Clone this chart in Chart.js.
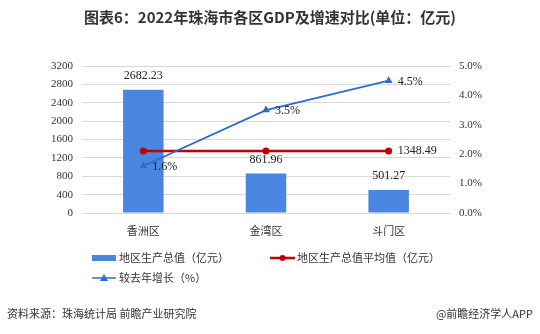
<!DOCTYPE html>
<html><head><meta charset="utf-8">
<script src="https://cdn.jsdelivr.net/npm/chart.js@4"></script>
<style>
html,body{margin:0;padding:0;background:#fff;}
#wrap{position:relative;width:540px;height:334px;overflow:hidden;}
#title{position:absolute;left:0;top:6px;width:540px;text-align:center;font:bold 15px "Noto Sans CJK SC","Liberation Sans",sans-serif;color:#333;}
#src{position:absolute;left:7px;top:305px;font:11px "Noto Sans CJK SC",sans-serif;color:#333;}
#app{position:absolute;right:7px;top:305px;font:11px "Noto Sans CJK SC",sans-serif;color:#333;}
canvas{position:absolute;left:0;top:0;}
</style></head><body>
<div id="wrap">
<canvas id="c" width="540" height="334"></canvas>
<div id="title">图表6：2022年珠海市各区GDP及增速对比(单位：亿元)</div>
<div id="src">资料来源：珠海统计局 前瞻产业研究院</div>
<div id="app">@前瞻经济学人APP</div>
</div>
<script>
const categories = ["香洲区", "金湾区", "斗门区"];
const gdpValues = [2682.23, 861.96, 501.27];
const avgValues = [1348.49, 1348.49, 1348.49];
const growthValues = [1.6, 3.5, 4.5];
const leftTicks = [0, 400, 800, 1200, 1600, 2000, 2400, 2800, 3200];
const rightTicks = [0, 0.5, 1, 1.5, 2, 2.5, 3, 3.5, 4, 4.5, 5];

const serif = "'Liberation Serif', 'Times New Roman', serif";
const cjk = "'Noto Sans CJK SC', sans-serif";
const BLUE = '#4a86df', RED = '#c00000', LBLUE = '#2e6cc8';

Chart.defaults.font.family = serif;
Chart.defaults.font.size = 11;
Chart.defaults.color = '#333';

const labelPlugin = {
  id: 'labels',
  afterDatasetsDraw(chart) {
    const ctx = chart.ctx;
    ctx.save();
    ctx.font = '12px ' + serif;
    ctx.fillStyle = '#222';
    const m0 = chart.getDatasetMeta(0);
    m0.data.forEach((el, i) => {
      ctx.textAlign = 'center'; ctx.textBaseline = 'middle';
      ctx.fillText(gdpValues[i].toFixed(2), el.x, el.y - 14);
    });
    const m1 = chart.getDatasetMeta(1);
    const last = m1.data[m1.data.length - 1];
    ctx.textAlign = 'left';
    ctx.fillText(avgValues[avgValues.length - 1].toFixed(2), last.x + 9, last.y);
    const m2 = chart.getDatasetMeta(2);
    m2.data.forEach((el, i) => {
      ctx.textAlign = 'left';
      ctx.fillText(growthValues[i].toFixed(1) + '%', el.x + 9, el.y + 1);
    });
    ctx.restore();
  }
};

const legendPlugin = {
  id: 'customLegend',
  afterDraw(chart) {
    const ctx = chart.ctx;
    ctx.save();
    ctx.font = '11px ' + cjk;
    ctx.textBaseline = 'middle';
    ctx.textAlign = 'left';
    let y = 258;
    ctx.fillStyle = BLUE;
    ctx.fillRect(92, y - 3, 24, 6);
    ctx.fillStyle = '#333';
    ctx.fillText('地区生产总值（亿元）', 119, y);
    ctx.strokeStyle = RED; ctx.lineWidth = 2.5;
    ctx.beginPath(); ctx.moveTo(270, y); ctx.lineTo(295, y); ctx.stroke();
    ctx.fillStyle = RED;
    ctx.beginPath(); ctx.arc(282.5, y, 3, 0, Math.PI * 2); ctx.fill();
    ctx.fillStyle = '#333';
    ctx.fillText('地区生产总值平均值（亿元）', 297, y);
    y = 278;
    ctx.strokeStyle = LBLUE; ctx.lineWidth = 1.5;
    ctx.beginPath(); ctx.moveTo(92, y); ctx.lineTo(116, y); ctx.stroke();
    ctx.fillStyle = LBLUE;
    ctx.beginPath(); ctx.moveTo(104, y - 4); ctx.lineTo(108, y + 3); ctx.lineTo(100, y + 3); ctx.closePath(); ctx.fill();
    ctx.fillStyle = '#333';
    ctx.fillText('较去年增长（%）', 119, y);
    ctx.restore();
  }
};

new Chart(document.getElementById('c'), {
  data: {
    labels: categories,
    datasets: [
      { type: 'bar', label: '地区生产总值（亿元）', data: gdpValues, backgroundColor: BLUE,
        barPercentage: 0.33, categoryPercentage: 1, yAxisID: 'y', order: 3 },
      { type: 'line', label: '地区生产总值平均值（亿元）', data: avgValues, borderColor: RED, backgroundColor: RED,
        borderWidth: 2.5, pointRadius: 3.5, pointBackgroundColor: RED, pointBorderWidth: 0, yAxisID: 'y', order: 2 },
      { type: 'line', label: '较去年增长（%）', data: growthValues, borderColor: LBLUE, backgroundColor: LBLUE,
        borderWidth: 1.8, pointStyle: 'triangle', pointRadius: 4.5, pointBorderWidth: 0, pointBackgroundColor: LBLUE,
        yAxisID: 'y1', order: 1 }
    ]
  },
  options: {
    responsive: false,
    animation: false,
    layout: { padding: { top: 66, bottom: 0, left: 0, right: 0 } },
    plugins: { legend: { display: false }, tooltip: { enabled: false }, title: { display: false } },
    scales: {
      x: {
        grid: { display: false, drawTicks: false },
        border: { display: false },
        ticks: { font: { family: cjk, size: 11 }, color: '#333', padding: 11 },
        afterFit(s) { s.height = 121; }
      },
      y: {
        position: 'left', min: 0, max: 3200,
        afterBuildTicks(s) { s.ticks = leftTicks.map(v => ({ value: v })); },
        grid: { color: '#d9d9d9', drawTicks: false },
        border: { display: false },
        ticks: { font: { family: serif, size: 11 }, color: '#333', padding: 9, callback: v => String(v) },
        afterFit(s) { s.width = 82; }
      },
      y1: {
        position: 'right', min: 0, max: 5,
        afterBuildTicks(s) { s.ticks = rightTicks.map(v => ({ value: v })); },
        grid: { display: false, drawTicks: false },
        border: { display: false },
        ticks: { font: { family: serif, size: 11 }, color: '#333', padding: 9, callback: v => v.toFixed(1) + '%' },
        afterFit(s) { s.width = 90; }
      }
    }
  },
  plugins: [labelPlugin, legendPlugin]
});
</script>
</body></html>
